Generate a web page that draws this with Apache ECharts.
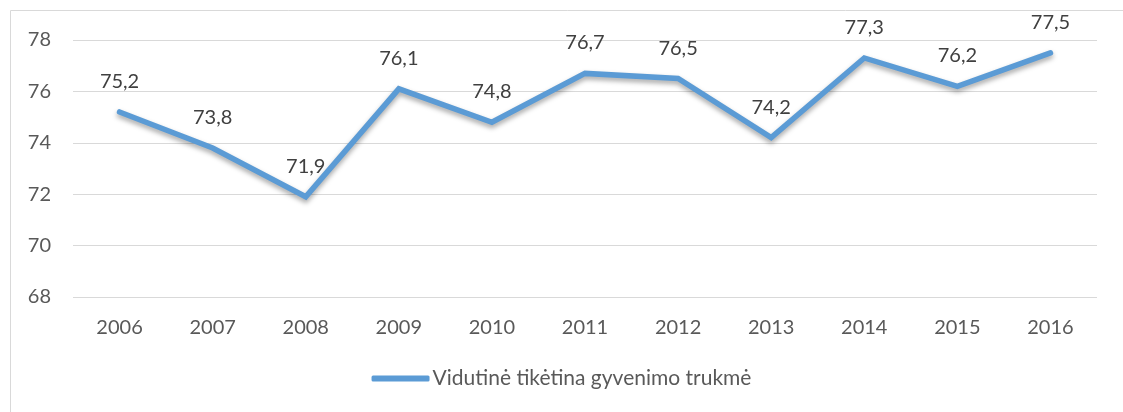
<!DOCTYPE html>
<html>
<head>
<meta charset="utf-8">
<script src="https://cdn.jsdelivr.net/npm/echarts@6/dist/echarts.min.js"></script>
<style>
  html, body { margin: 0; padding: 0; background: #fff; }
  #chart { width: 1123px; height: 412px; }
</style>
</head>
<body>
<div id="chart"></div>
<script>
var years = ['2006', '2007', '2008', '2009', '2010', '2011', '2012', '2013', '2014', '2015', '2016'];
var lifeExpectancy = [75.2, 73.8, 71.9, 76.1, 74.8, 76.7, 76.5, 74.2, 77.3, 76.2, 77.5];
var seriesName = 'Vidutinė tikėtina gyvenimo trukmė';

var font = 'Lato, "Open Sans", sans-serif';
var lineColor = '#5b9bd5';

var myChart = echarts.init(document.getElementById('chart'));
var option = {
    animation: false,
    textStyle: { fontFamily: font },
    graphic: [{
        type: 'rect',
        shape: { x: 10.5, y: 10.5, width: 1200, height: 500 },
        style: { fill: 'none', stroke: '#d9d9d9', lineWidth: 1 },
        silent: true
    }],
    grid: { left: 73, right: 26, top: 40, bottom: 115, containLabel: false },
    legend: {
        bottom: 18,
        left: 'center',
        itemWidth: 58,
        itemHeight: 6,
        itemGap: 4,
        textStyle: { color: '#595959', fontSize: 21, fontFamily: font, padding: [0, 0, 0, -2] },
        data: [{ name: seriesName, icon: 'roundRect' }]
    },
    xAxis: {
        type: 'category',
        data: years,
        axisLine: { show: false },
        axisTick: { show: false },
        axisLabel: { color: '#595959', fontSize: 20, margin: 21, fontFamily: font }
    },
    yAxis: {
        type: 'value',
        min: 68,
        max: 78,
        interval: 2,
        axisLine: { show: false },
        axisTick: { show: false },
        axisLabel: { color: '#595959', fontSize: 20, margin: 22, fontFamily: font },
        splitLine: { lineStyle: { color: '#d9d9d9', width: 1 } }
    },
    series: [{
        name: seriesName,
        type: 'line',
        data: lifeExpectancy,
        symbol: 'circle',
        symbolSize: 1,
        showSymbol: true,
        itemStyle: { color: lineColor },
        lineStyle: {
            color: lineColor,
            width: 5.5,
            cap: 'round',
            join: 'miter',
            shadowColor: 'rgba(0,0,0,0.35)',
            shadowBlur: 5,
            shadowOffsetY: 3
        },
        label: {
            show: true,
            position: 'top',
            distance: 20,
            color: '#404040',
            fontSize: 20,
            fontFamily: font,
            formatter: function (p) { return String(p.value).replace('.', ','); }
        }
    }]
};
myChart.setOption(option);
</script>
</body>
</html>
